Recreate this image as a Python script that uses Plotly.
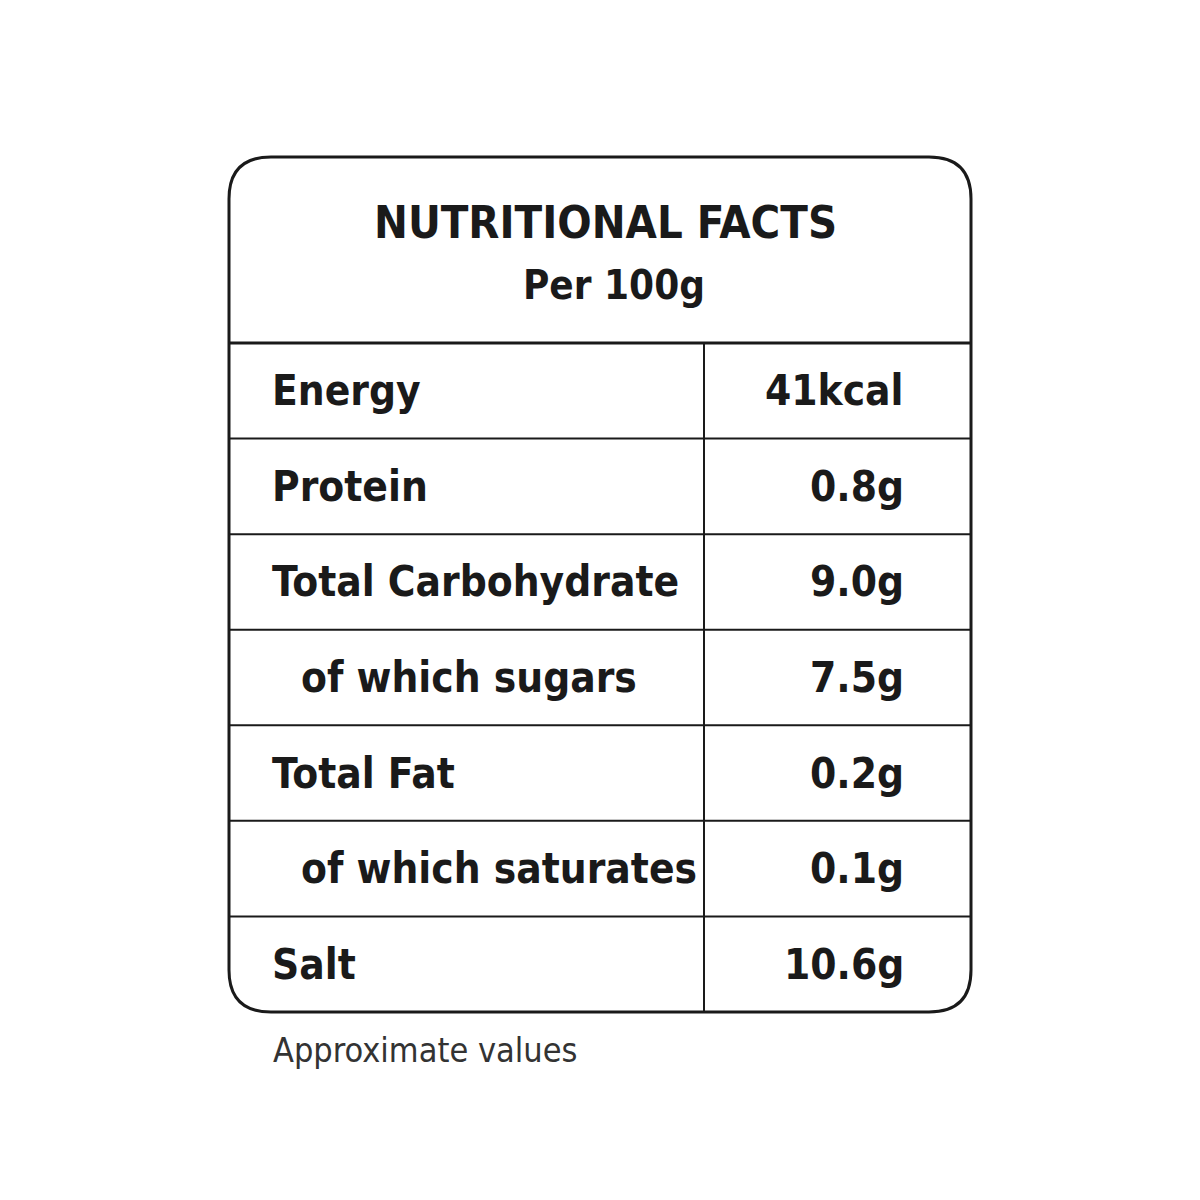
import plotly.graph_objects as go

title = "NUTRITIONAL FACTS"
subtitle = "Per 100g"
labels = ["Energy", "Protein", "Total Carbohydrate", "of which sugars", "Total Fat", "of which saturates", "Salt"]
indent = [False, False, False, True, False, True, False]
values = ["41kcal", "0.8g", "9.0g", "7.5g", "0.2g", "0.1g", "10.6g"]
footer = "Approximate values"

FONT = "Liberation Sans Narrow, DejaVu Sans Condensed, sans-serif"
C = "#1a1a1a"
O = 8  # page offset compensation
L, R, T, B = 229 - O, 971 - O, 157 - O, 1012 - O
HEAD = 343 - O
VX = 704 - O
rowh = (B - HEAD) / len(labels)

fig = go.Figure()
r = 42
path = (f"M {L+r},{T} L {R-r},{T} Q {R},{T} {R},{T+r} L {R},{B-r} Q {R},{B} {R-r},{B} "
        f"L {L+r},{B} Q {L},{B} {L},{B-r} L {L},{T+r} Q {L},{T} {L+r},{T} Z")
shapes = [dict(type="path", path=path, line=dict(color=C, width=3))]
shapes.append(dict(type="line", x0=L, x1=R, y0=HEAD, y1=HEAD, line=dict(color=C, width=3)))
for i in range(1, len(labels)):
    y = HEAD + i * rowh
    shapes.append(dict(type="line", x0=L, x1=R, y0=y, y1=y, line=dict(color=C, width=2)))
shapes.append(dict(type="line", x0=VX, x1=VX, y0=HEAD, y1=B, line=dict(color=C, width=2)))

ann = [
    dict(x=605 - O, y=222 - O, text=f"<b>{title}</b>", font=dict(size=45, color=C, family=FONT), showarrow=False),
    dict(x=614 - O, y=285 - O, text=f"<b>{subtitle}</b>", font=dict(size=40, color=C, family=FONT), showarrow=False),
    dict(x=271 - O, y=1050 - O, text=footer, xanchor="left", font=dict(size=34, color="#333", family=FONT), showarrow=False),
]
for i, (lab, ind, val) in enumerate(zip(labels, indent, values)):
    yc = HEAD + (i + 0.5) * rowh
    ann.append(dict(x=(299 if ind else 270) - O, y=yc, text=f"<b>{lab}</b>", xanchor="left",
                    font=dict(size=42, color=C, family=FONT), showarrow=False))
    ann.append(dict(x=906 - O, y=yc, text=f"<b>{val}</b>", xanchor="right",
                    font=dict(size=42, color=C, family=FONT), showarrow=False))

fig.update_layout(width=1200, height=1200, margin=dict(l=0, r=0, t=0, b=0),
                  paper_bgcolor="white", plot_bgcolor="white", shapes=shapes, annotations=ann,
                  xaxis=dict(range=[0, 1200], visible=False),
                  yaxis=dict(range=[1200, 0], visible=False), showlegend=False)
fig.write_html("out.html")
